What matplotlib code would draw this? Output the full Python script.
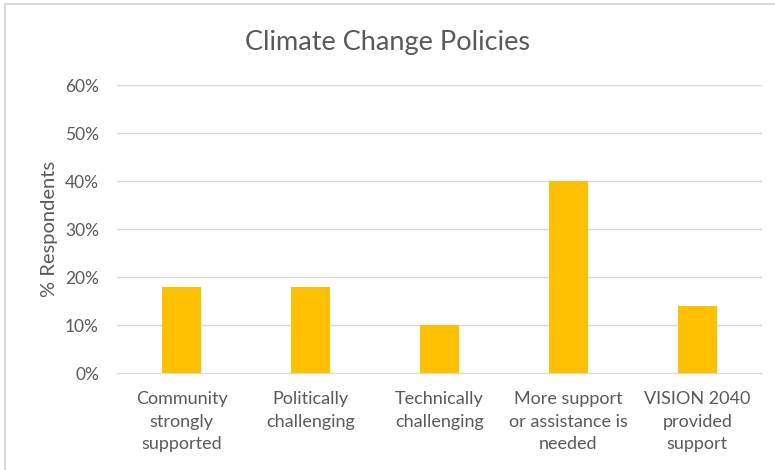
import matplotlib.pyplot as plt
from matplotlib.lines import Line2D
from matplotlib.ticker import FuncFormatter

categorias = ["Community\nstrongly\nsupported", "Politically\nchallenging",
              "Technically\nchallenging", "More support\nor assistance is\nneeded",
              "VISION 2040\nprovided\nsupport"]
valores = [0.18, 0.18, 0.10, 0.40, 0.14]

cinza = '#595959'
plt.rcParams['font.family'] = ['Lato', 'DejaVu Sans']

fig = plt.figure(figsize=(7.75, 4.7), dpi=100)
ax = fig.add_axes([0.151, 0.206, 0.832, 0.613])

x = range(len(categorias))
ax.bar(x, valores, width=0.3, color='#FFC000', zorder=3)

ax.set_ylim(0, 0.6)
ax.set_xlim(-0.5, len(categorias) - 0.5)
ax.set_yticks([i / 10 for i in range(7)])
ax.yaxis.set_major_formatter(FuncFormatter(lambda v, p: f'{v*100:.0f}%'))
ax.grid(axis='y', color='#D9D9D9', linewidth=1, zorder=0)
ax.set_xticks(list(x))
ax.set_xticklabels(categorias, linespacing=1.5)
ax.tick_params(axis='both', length=0, colors=cinza)
ax.tick_params(axis='x', pad=13, labelsize=13)
ax.tick_params(axis='y', pad=13, labelsize=12.5)
for lado in ['top', 'right', 'left']:
    ax.spines[lado].set_visible(False)
ax.spines['bottom'].set_color('#D9D9D9')

ax.set_ylabel('% Respondents', color=cinza, fontsize=14.5, labelpad=5)
fig.text(0.5, 0.91, 'Climate Change Policies', ha='center', va='center',
         color=cinza, fontsize=19.5)

# moldura do gráfico
fig.add_artist(Line2D([5/775, 1], [1 - 4/470, 1 - 4/470], color='#D9D9D9', linewidth=1.5))
fig.add_artist(Line2D([5/775, 5/775], [0, 1 - 4/470], color='#D9D9D9', linewidth=1.5))

plt.savefig('out.png', dpi=100)
